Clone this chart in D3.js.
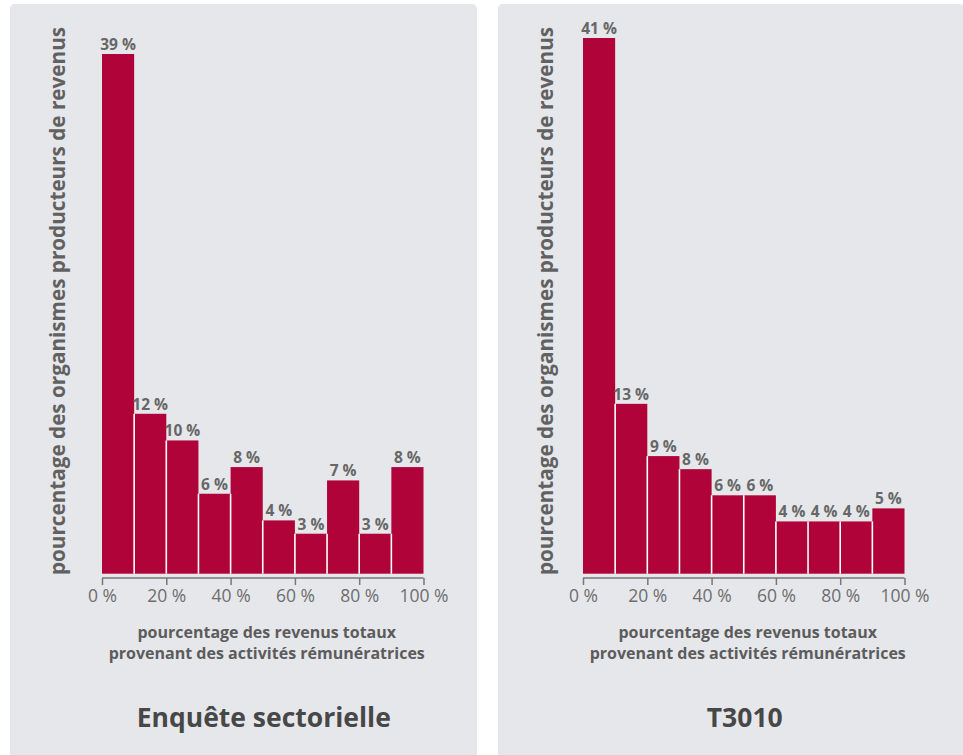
<!DOCTYPE html>
<html lang="fr">
<head>
<meta charset="utf-8">
<script src="https://cdn.jsdelivr.net/npm/d3@7"></script>
<style>
  html, body { margin: 0; padding: 0; background: #ffffff; }
  svg { display: block; font-family: "Open Sans", "Noto Sans", sans-serif; }
</style>
</head>
<body>
<svg id="chart" width="963" height="755"></svg>
<script>
// Share of income-producing organisations by percentage of total revenue
// coming from revenue-generating activities (10-point bins).
const bins = ["0-10", "10-20", "20-30", "30-40", "40-50", "50-60", "60-70", "70-80", "80-90", "90-100"];
const binStarts = [0, 10, 20, 30, 40, 50, 60, 70, 80, 90];
const enqueteValues = [39, 12, 10, 6, 8, 4, 3, 7, 3, 8];
const t3010Values = [41, 13, 9, 8, 6, 6, 4, 4, 4, 5];
const xTicks = [0, 20, 40, 60, 80, 100];
const panelTitles = ["Enquête sectorielle", "T3010"];
const yAxisLabel = "pourcentage des organismes producteurs de revenus";
const xAxisLabel = ["pourcentage des revenus totaux", "provenant des activités rémunératrices"];

const svg = d3.select("#chart");
const barColor = "#b0033a";
const panelFill = "#e6e7eb";

const panels = [
  { values: enqueteValues, title: panelTitles[0], px: 10, x0: 102, topY: 54 },
  { values: t3010Values,   title: panelTitles[1], px: 498, x0: 583, topY: 38 }
];

const plotW = 321.5;
const baseY = 573.7;

panels.forEach(p => {
  const g = svg.append("g");

  // panel background card
  g.append("rect")
    .attr("x", p.px).attr("y", 4)
    .attr("width", 467).attr("height", 780)
    .attr("rx", 5).attr("fill", panelFill);

  const x = d3.scaleLinear().domain([0, 100]).range([p.x0, p.x0 + plotW]);
  const maxV = d3.max(p.values);
  const y = d3.scaleLinear().domain([0, maxV]).range([baseY, p.topY]);

  const data = p.values.map((v, i) => ({ bin: bins[i], start: binStarts[i], value: v }));

  // bars
  g.selectAll("rect.bar").data(data).join("rect")
    .attr("class", "bar")
    .attr("x", d => x(d.start))
    .attr("width", d => x(d.start + 10) - x(d.start))
    .attr("y", d => y(d.value))
    .attr("height", d => y(0) - y(d.value))
    .attr("fill", barColor);

  // white separators between adjacent bars, as high as the shorter neighbour
  const seps = data.slice(1).map((d, i) => ({ at: d.start, v: Math.min(d.value, data[i].value) }));
  g.selectAll("line.sep").data(seps).join("line")
    .attr("class", "sep")
    .attr("x1", d => x(d.at)).attr("x2", d => x(d.at))
    .attr("y1", y(0)).attr("y2", d => y(d.v))
    .attr("stroke", "#ffffff").attr("stroke-width", 1.6);

  // value labels
  g.selectAll("text.val").data(data).join("text")
    .attr("class", "val")
    .attr("x", d => x(d.start + 5))
    .attr("y", d => y(d.value) - 4)
    .attr("text-anchor", "middle")
    .attr("font-size", 15.5).attr("font-weight", 700)
    .attr("fill", "#676767")
    .text(d => d.value + " %");

  // x axis
  const axis = d3.axisBottom(x).tickValues(xTicks).tickSize(7).tickPadding(5)
    .tickFormat(d => d + " %");
  const ax = g.append("g").attr("transform", `translate(0,578)`).call(axis);
  ax.select(".domain").attr("stroke", "#777").attr("stroke-width", 1.5)
    .attr("d", `M${p.x0},0H${p.x0 + plotW}`);
  ax.selectAll(".tick line").attr("stroke", "#777").attr("stroke-width", 1.5);
  ax.selectAll(".tick text")
    .attr("font-size", 17.5).attr("fill", "#6e6e6e")
    .attr("font-family", "'Open Sans', sans-serif");

  const cx = p.x0 + plotW / 2 + 4;

  // x axis title
  const xt = g.append("text")
    .attr("text-anchor", "middle")
    .attr("font-size", 16).attr("font-weight", 700).attr("fill", "#5c5c5c");
  xt.append("tspan").attr("x", cx).attr("y", 638).text(xAxisLabel[0]);
  xt.append("tspan").attr("x", cx).attr("y", 659).text(xAxisLabel[1]);

  // panel title
  g.append("text")
    .attr("x", cx - 3).attr("y", 727)
    .attr("text-anchor", "middle")
    .attr("font-size", 26.5).attr("font-weight", 700).attr("fill", "#474747")
    .text(p.title);

  // y axis title
  g.append("text")
    .attr("transform", `translate(${p.px + 55},301) rotate(-90)`)
    .attr("text-anchor", "middle")
    .attr("font-size", 20.7).attr("font-weight", 700).attr("fill", "#616161")
    .text(yAxisLabel);
});
</script>
</body>
</html>
